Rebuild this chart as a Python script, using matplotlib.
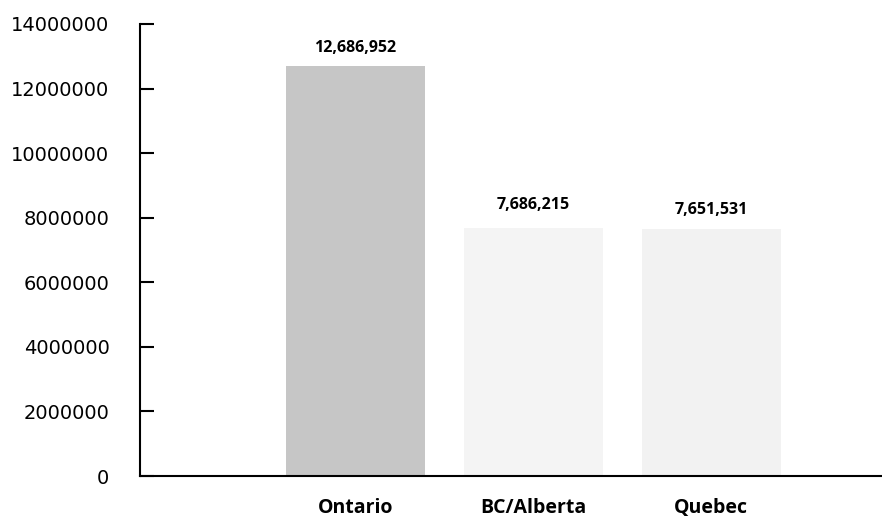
import matplotlib.pyplot as plt

# Population by region
regions = ['Ontario', 'BC/Alberta', 'Quebec']
population = [12686952, 7686215, 7651531]
bar_colors = ['#c6c6c6', '#f4f4f4', '#f2f2f2']
y_ticks = [0, 2000000, 4000000, 6000000, 8000000, 10000000, 12000000, 14000000]

fig = plt.figure(figsize=(8.82, 5.18), dpi=100)
ax = fig.add_axes([140 / 882, 42 / 518, 742 / 882, 452 / 518])

x = range(len(regions))
ax.bar(x, population, width=0.78, color=bar_colors, edgecolor='none')

# value labels above bars
offsets = [13, 16.5, 14]
for i, v in enumerate(population):
    ax.annotate(f"{v:,}", (i, v), xytext=(0, offsets[i]), textcoords='offset points',
                ha='center', va='center', fontsize=11.5, fontweight='bold',
                family='Open Sans')

ax.set_xlim(-1.21, 2.96)
ax.set_ylim(0, 14000000)
ax.set_yticks(y_ticks)
ax.set_yticklabels([str(t) for t in y_ticks], fontsize=14, family='DejaVu Sans')
ax.set_xticks(list(x))
ax.set_xticklabels(regions, fontsize=14, fontweight='bold', family='Open Sans')

ax.tick_params(axis='y', direction='in', length=10, width=1.5, pad=22)
ax.tick_params(axis='x', length=0, pad=16)

ax.spines['top'].set_visible(False)
ax.spines['right'].set_visible(False)
ax.spines['left'].set_linewidth(1.5)
ax.spines['bottom'].set_linewidth(1.5)

fig.savefig('out.png', dpi=100)
